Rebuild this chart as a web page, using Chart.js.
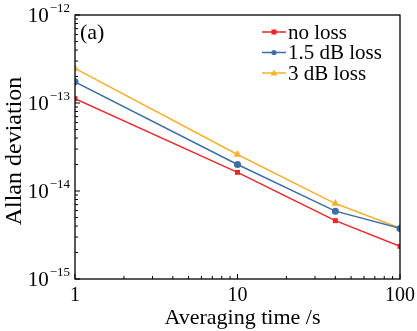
<!DOCTYPE html>
<html><head><meta charset="utf-8">
<script src="https://cdn.jsdelivr.net/npm/chart.js@4"></script>
<style>html,body{margin:0;padding:0;background:#fff}#wrap{width:417px;height:331px}</style>
</head><body><div id="wrap"><canvas id="c" width="417" height="331"></canvas></div>
<script>
const times = [1, 10, 40, 100];
const noLoss = [1.12e-13, 1.63e-14, 4.6e-15, 2.35e-15];
const loss15 = [1.74e-13, 2.0e-14, 5.9e-15, 3.76e-15];
const loss3 = [2.47e-13, 2.6e-14, 7.2e-15, 3.8e-15];
const seriesNames = ['no loss', '1.5 dB loss', '3 dB loss'];
const xTickVals = [1, 10, 100];
const yTickExps = [-12, -13, -14, -15];
const colors = ['#e8272b', '#3d6ea8', '#f6b12f'];
const shapes = ['rect', 'circle', 'triangle'];
const FONT = '"Liberation Serif", "DejaVu Serif", serif';

const mk = (arr) => times.map((t, i) => ({x: t, y: arr[i]}));
const seriesData = [noLoss, loss15, loss3];

const drawPlugin = {
  id: 'deco',
  afterDraw(chart) {
    const ctx = chart.ctx, a = chart.chartArea;
    const xs = chart.scales.x, ys = chart.scales.y;
    ctx.save();
    ctx.strokeStyle = '#000'; ctx.lineWidth = 1.3;
    ctx.strokeRect(a.left, a.top, a.right - a.left, a.bottom - a.top);
    ctx.lineWidth = 1;
    for (let d = 1; d <= 100; d *= 10) {
      for (let m = 1; m < 10; m++) {
        const v = d * m; if (v > 100) break;
        const px = xs.getPixelForValue(v);
        const len = m === 1 ? 5 : 3;
        ctx.beginPath(); ctx.moveTo(px, a.bottom); ctx.lineTo(px, a.bottom - len); ctx.stroke();
      }
    }
    for (let e = -15; e <= -12; e++) {
      for (let m = 1; m < 10; m++) {
        const v = m * Math.pow(10, e); if (v > 1.0001e-12) break;
        const py = ys.getPixelForValue(v);
        const len = m === 1 ? 5 : 3;
        ctx.beginPath(); ctx.moveTo(a.left, py); ctx.lineTo(a.left + len, py); ctx.stroke();
      }
    }
    ctx.fillStyle = '#000';
    ctx.font = '20px ' + FONT; ctx.textAlign = 'center'; ctx.textBaseline = 'top';
    xTickVals.forEach(v => ctx.fillText(String(v), xs.getPixelForValue(v), a.bottom + 7));
    yTickExps.forEach(e => {
      const py = ys.getPixelForValue(Math.pow(10, e));
      ctx.font = '13px ' + FONT; ctx.textAlign = 'right'; ctx.textBaseline = 'alphabetic';
      const sup = '\u2212' + String(-e);
      ctx.fillText(sup, a.left - 5, py - 3);
      const sw = ctx.measureText(sup).width;
      ctx.font = '21px ' + FONT;
      ctx.fillText('10', a.left - 6 - sw, py + 7);
    });
    ctx.font = '22px ' + FONT; ctx.textAlign = 'center'; ctx.textBaseline = 'middle';
    ctx.fillText('Averaging time /s', (a.left + a.right) / 2 + 5, 318);
    ctx.save(); ctx.font = '24px ' + FONT; ctx.translate(15, 151); ctx.rotate(-Math.PI / 2);
    ctx.fillText('Allan deviation', 0, 0); ctx.restore();
    ctx.textAlign = 'left'; ctx.font = '22px ' + FONT;
    ctx.fillText('(a)', a.left + 5, a.top + 18);
    ctx.font = '21px ' + FONT;
    seriesNames.forEach((n, i) => {
      const y = 32 + i * 20.5;
      ctx.strokeStyle = colors[i]; ctx.lineWidth = 1.5;
      ctx.beginPath(); ctx.moveTo(262, y); ctx.lineTo(286, y); ctx.stroke();
      ctx.fillStyle = colors[i];
      if (shapes[i] === 'rect') ctx.fillRect(271.5, y - 2.5, 5, 5);
      else if (shapes[i] === 'circle') { ctx.beginPath(); ctx.arc(274, y, 2.6, 0, 7); ctx.fill(); }
      else { ctx.beginPath(); ctx.moveTo(274, y - 3.5); ctx.lineTo(277.5, y + 2.5); ctx.lineTo(270.5, y + 2.5); ctx.closePath(); ctx.fill(); }
      ctx.fillStyle = '#000'; ctx.textAlign = 'left';
      ctx.fillText(n, 288, y + 1);
    });
    ctx.restore();
  }
};

new Chart(document.getElementById('c'), {
  type: 'line',
  data: {
    datasets: seriesData.map((arr, i) => ({
      label: seriesNames[i], data: mk(arr), borderColor: colors[i], backgroundColor: colors[i],
      borderWidth: 1.5, pointStyle: shapes[i], pointRadius: i === 2 ? 4.5 : 3.5, pointBorderWidth: 0,
      tension: 0
    }))
  },
  options: {
    responsive: false, animation: false, events: [],
    layout: {padding: {left: 0, right: 17, top: 15, bottom: 0}},
    plugins: {legend: {display: false}, tooltip: {enabled: false}},
    scales: {
      x: {type: 'logarithmic', min: 1, max: 100, grid: {display: false, drawTicks: false}, border: {display: false},
          ticks: {display: false}, afterFit: s => { s.height = 52; }},
      y: {type: 'logarithmic', min: 1e-15, max: 1e-12, grid: {display: false, drawTicks: false}, border: {display: false},
          ticks: {display: false}, afterFit: s => { s.width = 75; }}
    }
  },
  plugins: [drawPlugin]
});
</script></body></html>
